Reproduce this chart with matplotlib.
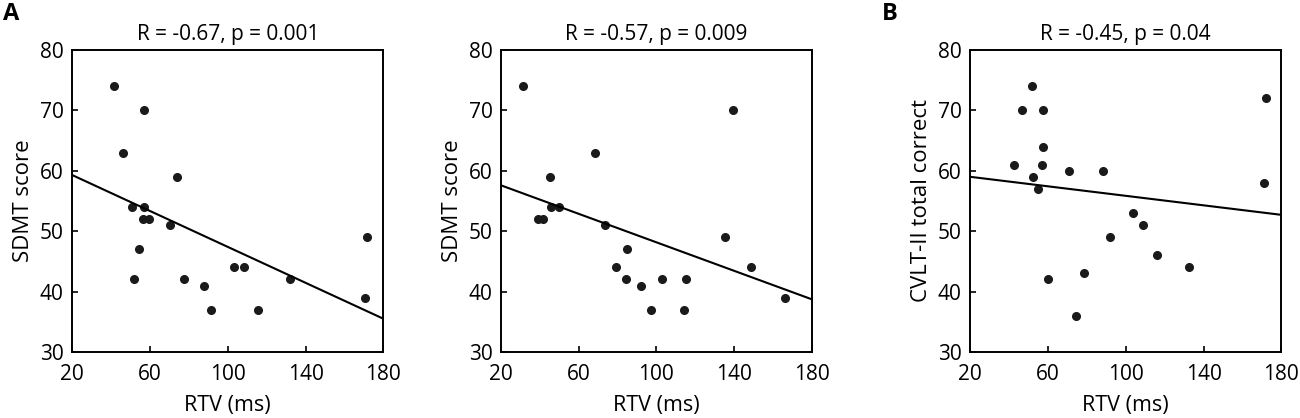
import numpy as np
import matplotlib
matplotlib.use("Agg")
import matplotlib.pyplot as plt

plt.rcParams['font.family'] = ['Open Sans', 'DejaVu Sans']

# ---- data ----
# panel A (left): SDMT vs RTV
rtv_a1 = [41.7, 57.2, 46.2, 73.8, 50.8, 57.2, 56.3, 59.6, 70.2, 54.4,
          51.7, 77.7, 87.8, 91.2, 103.2, 108.4, 115.4, 132.2, 171.5, 170.5]
sdmt_a1 = [74, 70, 63, 59, 54, 54, 52, 52, 51, 47,
           42, 42, 41, 37, 44, 44, 37, 42, 49, 39]
fit_a1 = [59.3, 35.5]

# panel A (right): SDMT vs RTV
rtv_a2 = [31.6, 139.2, 68.5, 45.2, 46.0, 50.1, 39.0, 41.9, 73.8, 135.2,
          85.1, 79.2, 148.4, 84.2, 102.9, 115.2, 92.3, 166.2, 97.1, 114.2]
sdmt_a2 = [74, 70, 63, 59, 54, 54, 52, 52, 51, 49,
           47, 44, 44, 42, 42, 42, 41, 39, 37, 37]
fit_a2 = [57.6, 38.7]

# panel B: CVLT-II vs RTV
rtv_b = [51.6, 46.8, 57.7, 171.9, 57.7, 42.4, 56.9, 70.7, 88.3, 52.3,
         55.0, 170.9, 103.8, 108.7, 91.7, 115.9, 132.6, 78.4, 59.9, 74.3]
cvlt_b = [74, 70, 70, 72, 64, 61, 61, 60, 60, 59,
          57, 58, 53, 51, 49, 46, 44, 43, 42, 36]
fit_b = [59.0, 52.7]

fit_x = [20, 180]
titles = ['R = -0.67, p = 0.001', 'R = -0.57, p = 0.009', 'R = -0.45, p = 0.04']
ylabels = ['SDMT score', 'SDMT score', 'CVLT-II total correct']
xs = [rtv_a1, rtv_a2, rtv_b]
ys = [sdmt_a1, sdmt_a2, cvlt_b]
fits = [fit_a1, fit_a2, fit_b]

fig = plt.figure(figsize=(13, 4.18), dpi=100)
lefts = [0.0554, 0.3852, 0.7462]
for i in range(3):
    ax = fig.add_axes([lefts[i], 0.158, 0.2395, 0.7225])
    ax.plot(xs[i], ys[i], 'o', color='#1a1a1a', ms=5.5, mec='#1a1a1a')
    ax.plot(fit_x, fits[i], color='black', lw=1.5)
    ax.set_xlim(20, 180)
    ax.set_ylim(30, 80)
    ax.set_xticks([20, 60, 100, 140, 180])
    ax.set_yticks([30, 40, 50, 60, 70, 80])
    ax.tick_params(direction='in', length=4, width=1.2, labelsize=15,
                   top=False, right=False)
    ax.tick_params(axis='x', pad=9)
    ax.tick_params(axis='y', pad=6)
    for s in ax.spines.values():
        s.set_linewidth(1.4)
    ax.set_title(titles[i], fontsize=15, pad=7)
    ax.set_xlabel('RTV (ms)', fontsize=15.5, labelpad=7)
    ax.set_ylabel(ylabels[i], fontsize=16, labelpad=4)

fig.text(0.002, 0.995, 'A', fontsize=17, fontweight='bold', va='top')
fig.text(0.678, 0.995, 'B', fontsize=17, fontweight='bold', va='top')

fig.savefig('out.png', dpi=100)
